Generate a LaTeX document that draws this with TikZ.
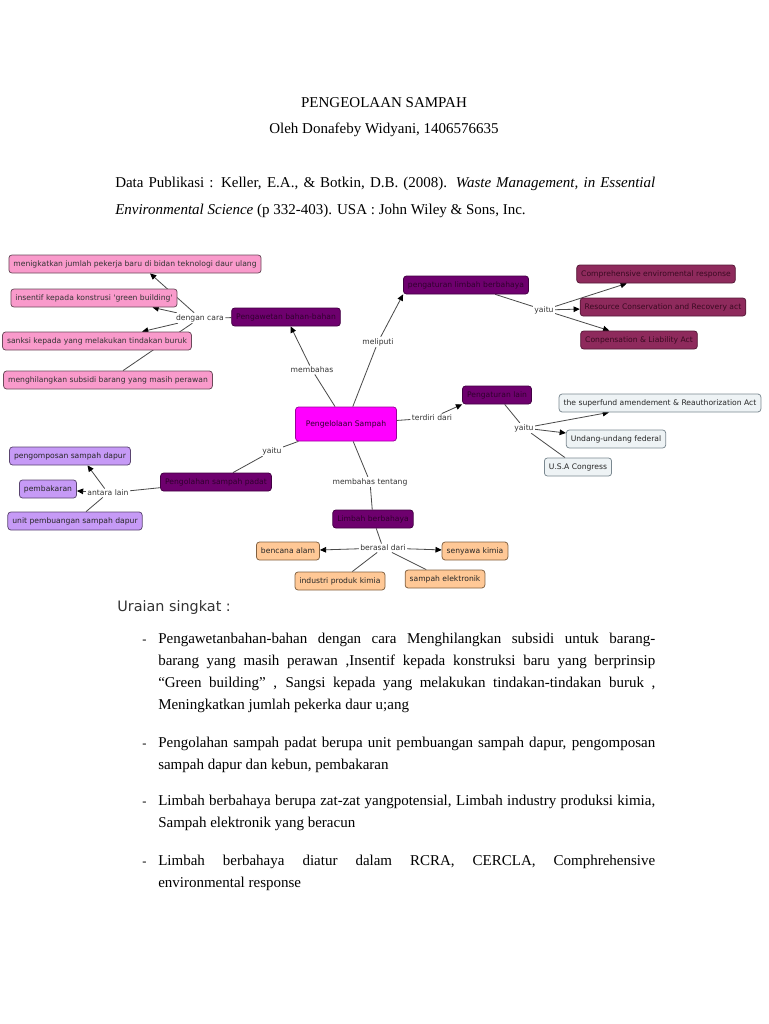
\documentclass[tikz,border=0pt]{standalone}
\usepackage{fontspec}
\setmainfont{Liberation Serif}
\newfontfamily\mapfont{DejaVu Sans}
\usetikzlibrary{arrows.meta, positioning}
\definecolor{ink}{HTML}{333333}
\definecolor{linegrey}{HTML}{4A4A4A}
\definecolor{rosefill}{HTML}{F99ACB}
\definecolor{roseline}{HTML}{6A4A5A}
\definecolor{plum}{HTML}{6E006E}
\definecolor{plumtext}{HTML}{30002E}
\definecolor{magentafill}{HTML}{FF00FF}
\definecolor{winefill}{HTML}{8E2A5C}
\definecolor{winetext}{HTML}{3A0A22}
\definecolor{icefill}{HTML}{EEF3F5}
\definecolor{iceline}{HTML}{7A8890}
\definecolor{lilacfill}{HTML}{C69AF6}
\definecolor{lilacline}{HTML}{5A4470}
\definecolor{peachfill}{HTML}{FFC896}
\definecolor{peachline}{HTML}{806040}
\pgfdeclarelayer{back}
\pgfsetlayers{back,main}

\begin{document}
\begin{tikzpicture}[
  x=0.8pt, y=-0.8pt,
  concept/.style={draw, rounded corners=2.4pt, minimum height=14.4pt,
                  inner xsep=3.6pt, inner ysep=1pt, line width=0.6pt,
                  font=\mapfont\fontsize{6.1}{7.2}\selectfont},
  pinkbox/.style={concept, fill=rosefill, draw=roseline, text=black!80},
  plumbox/.style={concept, fill=plum, draw=plum!60!black, text=plumtext},
  winebox/.style={concept, fill=winefill, draw=winefill!60!black, text=winetext},
  icebox/.style={concept, fill=icefill, draw=iceline, text=black!85},
  lilacbox/.style={concept, fill=lilacfill, draw=lilacline, text=black!85},
  peachbox/.style={concept, fill=peachfill, draw=peachline, text=black!85},
  link/.style={fill=white, inner sep=1pt, text=ink,
               font=\mapfont\fontsize{6.1}{7.2}\selectfont},
  conn/.style={draw=linegrey, line width=0.65pt},
  tip/.style={conn, -{Triangle[length=5pt, width=4.5pt, color=black]}},
  para/.style={anchor=north west, inner sep=0pt, text width=397.6pt, align=justify,
               font=\fontsize{12}{17.6}\selectfont}
]
\useasboundingbox (0,0) rectangle (768,1024);

% heading
\node[anchor=base, font=\fontsize{12}{14}\selectfont] (title)  at (384,108) {PENGEOLAAN SAMPAH};
\node[anchor=base, font=\fontsize{12}{14}\selectfont] (author) at (384,134) {Oleh Donafeby Widyani, 1406576635};
\node[anchor=north west, inner sep=0pt, text width=432pt, align=justify,
      font=\fontsize{12}{21.6}\selectfont] (pub) at (115,177)
  {\hangindent=80pt\hangafter=1 Data Publikasi : Keller, E.A., \& Botkin, D.B. (2008).
   \textit{Waste Management, in Essential}\linebreak
   \textit{Environmental Science} (p 332-403). USA : John Wiley \& Sons, Inc.};

% concept map
\node[concept, fill=magentafill, draw=magentafill!60!black, text=plumtext,
      minimum width=80.8pt, minimum height=27.2pt] (ctr) at (346,424) {Pengelolaan Sampah};

\node[plumbox] (pgw) at (286,317) {Pengawetan bahan-bahan};
\node[plumbox] (plb) at (466,285) {pengaturan limbah berbahaya};
\node[plumbox] (pgl) at (497,395) {Pengaturan lain};
\node[plumbox] (psp) at (216,482) {Pengolahan sampah padat};
\node[plumbox] (lbb) at (373,519) {Limbah berbahaya};

\node[pinkbox] (pk1) at (135,264) {menigkatkan jumlah pekerja baru di bidan teknologi daur ulang};
\node[pinkbox] (pk2) at (94,298)  {insentif kepada konstrusi 'green building'};
\node[pinkbox] (pk3) at (97,341)  {sanksi kepada yang melakukan tindakan buruk};
\node[pinkbox] (pk4) at (108,380) {menghilangkan subsidi barang yang masih perawan};

\node[winebox] (cer) at (656,274) {Comprehensive enviromental response};
\node[winebox] (rcr) at (663,307) {Resource Conservation and Recovery act};
\node[winebox] (cla) at (639,340) {Conpensation \& Liability Act};

\node[icebox] (sfa) at (660,403) {the superfund amendement \& Reauthorization Act};
\node[icebox] (uuf) at (616,439) {Undang-undang federal};
\node[icebox] (usa) at (578,467) {U.S.A Congress};

\node[lilacbox] (pgm) at (70,456) {pengomposan sampah dapur};
\node[lilacbox] (pbk) at (48,489) {pembakaran};
\node[lilacbox] (upb) at (75,521) {unit pembuangan sampah dapur};

\node[peachbox] (bca) at (288,551) {bencana alam};
\node[peachbox] (syk) at (475,551) {senyawa kimia};
\node[peachbox] (ipk) at (340,581) {industri produk kimia};
\node[peachbox] (sel) at (445,579) {sampah elektronik};

\node[link] (dc)  at (200,318) {dengan cara};
\node[link] (mbh) at (312,370) {membahas};
\node[link] (mlp) at (378,342) {meliputi};
\node[link] (yt1) at (544,310) {yaitu};
\node[link] (tdd) at (432,418) {terdiri dari};
\node[link] (yt2) at (524,428) {yaitu};
\node[link] (yt3) at (272,451) {yaitu};
\node[link] (atl) at (108,493) {antara lain};
\node[link] (mbt) at (370,482) {membahas tentang};
\node[link] (brd) at (383,548) {berasal dari};

\begin{pgfonlayer}{back}
\draw[conn] (pgw) -- (dc);
\draw[tip]  (dc) -- ([xshift=12pt]pk1.south);
\draw[tip]  (dc) -- ([xshift=-20pt]pk2.south east);
\draw[tip]  (dc) -- ([xshift=36pt]pk3.north);
\draw[conn] (dc) -- ([xshift=12pt]pk4.north);

\draw[conn] (ctr) -- (mbh);
\draw[tip]  (mbh) -- (pgw);
\draw[conn] (ctr) -- (mlp);
\draw[tip]  (mlp) -- (plb.south west);
\draw[conn] (plb) -- (yt1);
\draw[tip]  (yt1) -- (cer);
\draw[tip]  (yt1) -- (rcr);
\draw[tip]  (yt1) -- (cla);

\draw[conn] (ctr) -- (tdd);
\draw[tip]  (tdd) -- (pgl.south west);
\draw[conn] (pgl) -- (yt2);
\draw[tip]  (yt2) -- (sfa);
\draw[tip]  (yt2) -- (uuf);
\draw[conn] (yt2) -- (usa);

\draw[conn] (ctr) -- (yt3);
\draw[conn] (yt3) -- (psp);
\draw[conn] (psp) -- (atl);
\draw[tip]  (atl) -- ([xshift=14pt]pgm.south);
\draw[tip]  (atl) -- (pbk);
\draw[conn] (atl) -- (upb);

\draw[conn] (ctr) -- (mbt);
\draw[conn] (mbt) -- (lbb);
\draw[conn] (lbb) -- (brd);
\draw[tip]  (brd) -- (bca);
\draw[tip]  (brd) -- (syk);
\draw[conn] (brd) -- (ipk);
\draw[conn] (brd) -- (sel);
\end{pgfonlayer}

% summary
\node[anchor=base west, text=ink, font=\mapfont\fontsize{11.5}{14}\selectfont] (sum) at (113,611) {Uraian singkat :};

\node[anchor=base west] (b1) at (138,643) {-};
\node[para] (p1) at (158,633)
  {Pengawetanbahan-bahan dengan cara Menghilangkan subsidi untuk barang-\linebreak
   barang yang masih perawan ,Insentif kepada konstruksi baru yang berprinsip\linebreak
   “Green building” , Sangsi kepada yang melakukan tindakan-tindakan buruk ,\linebreak
   Meningkatkan jumlah pekerka daur u;ang};

\node[anchor=base west] (b2) at (138,747) {-};
\node[para] (p2) at (158,737)
  {Pengolahan sampah padat berupa unit pembuangan sampah dapur, pengomposan\linebreak
   sampah dapur dan kebun, pembakaran};

\node[anchor=base west] (b3) at (138,805) {-};
\node[para] (p3) at (158,795)
  {Limbah berbahaya berupa zat-zat yangpotensial, Limbah industry produksi kimia,\linebreak
   Sampah elektronik yang beracun};

\node[anchor=base west] (b4) at (138,865) {-};
\node[para] (p4) at (158,855)
  {Limbah berbahaya diatur dalam RCRA, CERCLA, Comphrehensive\linebreak
   environmental response};
\end{tikzpicture}
\end{document}
